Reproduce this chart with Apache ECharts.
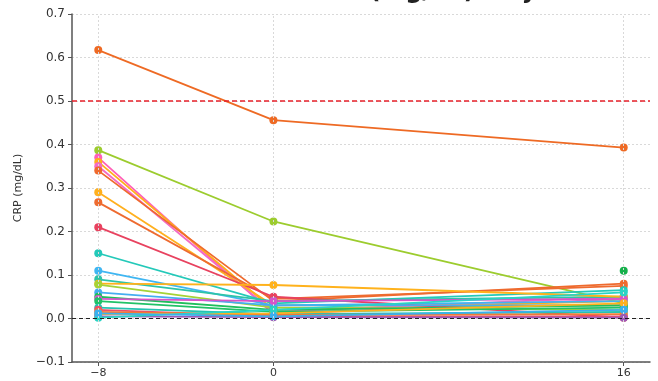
<!DOCTYPE html>
<html><head><meta charset="utf-8">
<script src="https://cdn.jsdelivr.net/npm/echarts@6/dist/echarts.min.js"></script>
<style>html,body{margin:0;padding:0;background:#fff}#c{width:658px;height:381px}</style>
</head><body><div id="c"></div>
<script>
var weeks = [-8, 0, 16];
var xTicks = [-8, 0, 16];
var yTicks = [-0.1, 0.0, 0.1, 0.2, 0.3, 0.4, 0.5, 0.6, 0.7];
var threshold = 0.5;
var names = ['P1','P2','P3','P4','P5','P6','P7','P8','P9','P10','P11','P12','P13','P14','P15','P16','P17','P18','P19','P20','P21','P22','P23','P24','P25','P26'];
var p1 = [0.617, 0.456, 0.393];
var p2 = [0.387, 0.223, 0.035];
var p3 = [0.370, 0.010, 0.045];
var p4 = [0.360, 0.020, 0.040];
var p5 = [0.350, 0.015, 0.050];
var p6 = [0.340, 0.040, 0.080];
var p7 = [0.290, 0.030, 0.030];
var p8 = [0.267, 0.045, 0.075];
var p9 = [0.210, 0.050, 0.002];
var p10 = [0.150, 0.035, 0.065];
var p11 = [0.110, 0.030, 0.040];
var p12 = [0.090, 0.040, 0.050];
var p13 = [0.080, 0.077, 0.050];
var p14 = [0.078, 0.025, 0.020];
var p15 = [0.060, 0.030, 0.030];
var p16 = [0.050, 0.020, 0.030];
var p17 = [0.045, 0.040, 0.045];
var p18 = [0.040, 0.015, 0.025];
var p19 = [0.025, 0.010, 0.015];
var p20 = [0.020, 0.005, 0.005];
var p21 = [0.015, 0.008, 0.010];
var p22 = [0.010, 0.012, 0.035];
var p23 = [0.005, 0.003, 0.002];
var p24 = [0.002, 0.020, 0.060];
var p25 = [0.012, 0.005, 0.020];
var p26 = [null, null, 0.110];
var values = [p1,p2,p3,p4,p5,p6,p7,p8,p9,p10,p11,p12,p13,p14,p15,p16,p17,p18,p19,p20,p21,p22,p23,p24,p25,p26];
var colors = ['#ee6a24','#9ccc2e','#ff5fb8','#ffae1a','#f46bc4','#ef6a2d','#ffb01e','#ee6b30','#e8425f','#24c9b9','#3fb6f2','#2ec4a8','#ffb21c','#a5d336','#45aef0','#1fbf5c','#d853c9','#20c267','#26c3b0','#ee4d6a','#f27a35','#ffb020','#9b59b6','#2ad4c4','#3ab0ee','#14b04a'];

function fmt(v){ var s = (Math.round(v*10)/10).toFixed(1); if (s === '-0.0') s = '0.0'; return s.replace('-', '\u2212'); }

var series = [];
series.push({
  type: 'line', data: [], silent: true, z: 1,
  markLine: {
    silent: true, symbol: 'none', label: {show: false},
    data: xTicks.map(function(x){ return {xAxis: x, lineStyle: {color: '#d9d9d9', type: [2, 2], width: 1}}; })
  }
});
names.forEach(function(n, i){
  series.push({
    name: n, type: 'line', z: 3,
    data: weeks.map(function(w, j){ return [w, values[i][j]]; }),
    symbol: 'circle', symbolSize: 8, showSymbol: true,
    lineStyle: {width: 1.8, color: colors[i]},
    itemStyle: {color: colors[i], borderWidth: 0},
    emphasis: {disabled: true}
  });
});
series.push({
  type: 'line', data: [], silent: true, z: 5,
  markLine: {
    silent: true, symbol: 'none', label: {show: false},
    data: [
      {yAxis: threshold, lineStyle: {color: '#e8202a', type: [5, 3], width: 1.5}},
      {yAxis: 0, lineStyle: {color: '#222', type: [4, 3], width: 1.2}}
    ]
  }
});

var chart = echarts.init(document.getElementById('c'), null, {renderer: 'canvas'});
chart.setOption({
  animation: false,
  backgroundColor: '#fff',
  title: {
    text: 'Individual CRP (mg/dL) Trajectories',
    left: 160, top: -25,
    textStyle: {fontFamily: 'DejaVu Sans', fontWeight: 'bold', fontSize: 24, color: '#222'}
  },
  grid: {left: 72, right: 8, top: 14, bottom: 19},
  xAxis: {
    type: 'value', min: -9.2, max: 17.2,
    axisLine: {onZero: false, lineStyle: {color: '#555', width: 1.5}},
    axisTick: {customValues: xTicks, length: 4, lineStyle: {color: '#555'}},
    axisLabel: {customValues: xTicks, formatter: function(v){ return String(v).replace('-', '\u2212'); }, color: '#333', fontFamily: 'DejaVu Sans', fontSize: 11, margin: 6},
    splitLine: {show: false}
  },
  yAxis: {
    type: 'value', min: -0.1, max: 0.7, interval: 0.1,
    name: 'CRP (mg/dL)', nameLocation: 'middle', nameGap: 48,
    nameTextStyle: {color: '#333', fontFamily: 'DejaVu Sans', fontSize: 11},
    axisLine: {show: true, onZero: false, lineStyle: {color: '#555', width: 1.5}},
    axisTick: {show: true, length: 4, lineStyle: {color: '#555'}},
    axisLabel: {formatter: fmt, color: '#333', fontFamily: 'DejaVu Sans', fontSize: 12, margin: 7},
    splitLine: {show: true, lineStyle: {color: '#d9d9d9', type: [2, 2], width: 1}}
  },
  series: series
});
</script>
</body></html>
